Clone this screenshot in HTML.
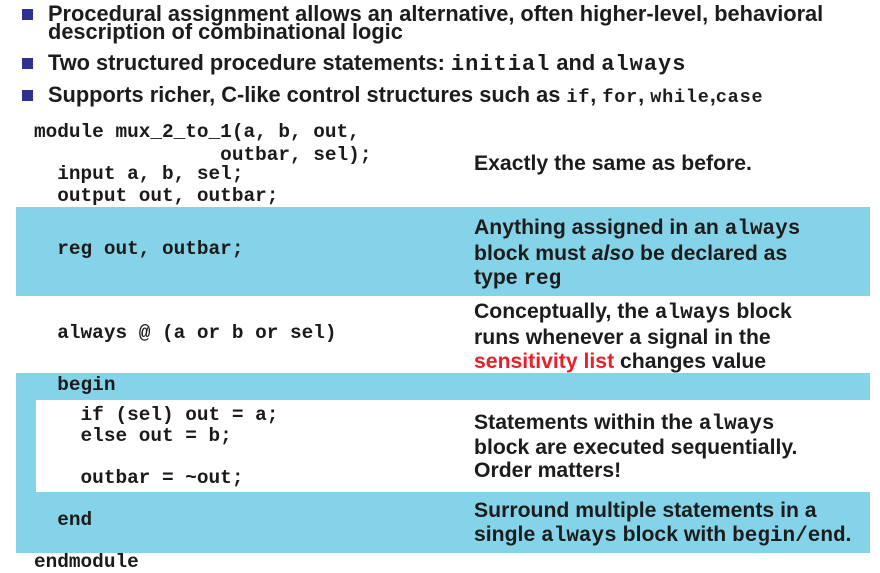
<!DOCTYPE html>
<html><head><meta charset="utf-8"><style>
body{margin:0;width:880px;height:572px;background:#fff;position:relative;overflow:hidden;font-family:"Liberation Sans",Arial,sans-serif;color:#1c1c1c}
.b{position:absolute;font-weight:bold;font-size:21.8px;white-space:nowrap;line-height:18px}
.sq{position:absolute;left:22px;width:11px;height:11px;background:#2e3192}
.band{position:absolute;background:#85d3e8}
.c{position:absolute;left:34px;font-family:"Liberation Mono","Courier New",monospace;font-weight:bold;font-size:19.4px;white-space:pre;line-height:20px;color:#1a1a1a}
.r{position:absolute;left:474px;font-weight:bold;font-size:21.2px;line-height:24px;white-space:nowrap}
.m{font-family:"Liberation Mono",monospace;font-weight:bold;font-size:21px}
.bm{font-family:"Liberation Mono",monospace;font-weight:bold;font-size:22px;letter-spacing:1px}
.sm{font-family:"Liberation Mono",monospace;font-weight:bold;font-size:18.5px;letter-spacing:.8px}
</style></head><body>
<div class="sq" style="top:9px"></div>
<div class="b" style="left:48px;top:5px">Procedural assignment allows an alternative, often higher-level, behavioral<br>description of combinational logic</div>
<div class="sq" style="top:58px"></div>
<div class="b" style="left:48px;top:54px">Two structured procedure statements: <span class="bm">initial</span> and <span class="bm">always</span></div>
<div class="sq" style="top:90px"></div>
<div class="b" style="left:48px;top:86px">Supports richer, C-like control structures such as <span class="sm">if</span>, <span class="sm">for</span>, <span class="sm">while</span>,<span class="sm">case</span></div>

<div class="band" style="left:16px;top:207px;width:854px;height:89px"></div>
<div class="band" style="left:16px;top:373px;width:854px;height:27px"></div>
<div class="band" style="left:16px;top:400px;width:20px;height:92px"></div>
<div class="band" style="left:16px;top:492px;width:854px;height:61px"></div>

<div class="c" style="top:122px">module mux_2_to_1(a, b, out,</div>
<div class="c" style="top:145px">                outbar, sel);</div>
<div class="c" style="top:164px">  input a, b, sel;</div>
<div class="c" style="top:186px">  output out, outbar;</div>
<div class="c" style="top:239px">  reg out, outbar;</div>
<div class="c" style="top:323px">  always @ (a or b or sel)</div>
<div class="c" style="top:375px">  begin</div>
<div class="c" style="top:405px">    if (sel) out = a;</div>
<div class="c" style="top:426px">    else out = b;</div>
<div class="c" style="top:468px">    outbar = ~out;</div>
<div class="c" style="top:510px">  end</div>
<div class="c" style="top:552px">endmodule</div>

<div class="r" style="top:152px">Exactly the same as before.</div>
<div class="r" style="top:216px">Anything assigned in an <span class="m">always</span><br>block must <i>also</i> be declared as<br>type <span class="m">reg</span></div>
<div class="r" style="top:300px">Conceptually, the <span class="m">always</span> block<br>runs whenever a signal in the<br><span style="color:#e8202a">sensitivity list</span> changes value</div>
<div class="r" style="top:411px;line-height:23px">Statements within the <span class="m">always</span><br>block are executed sequentially.<br>Order matters!</div>
<div class="r" style="top:499px">Surround multiple statements in a<br>single <span class="m">always</span> block with <span class="m">begin/end</span>.</div>
</body></html>
